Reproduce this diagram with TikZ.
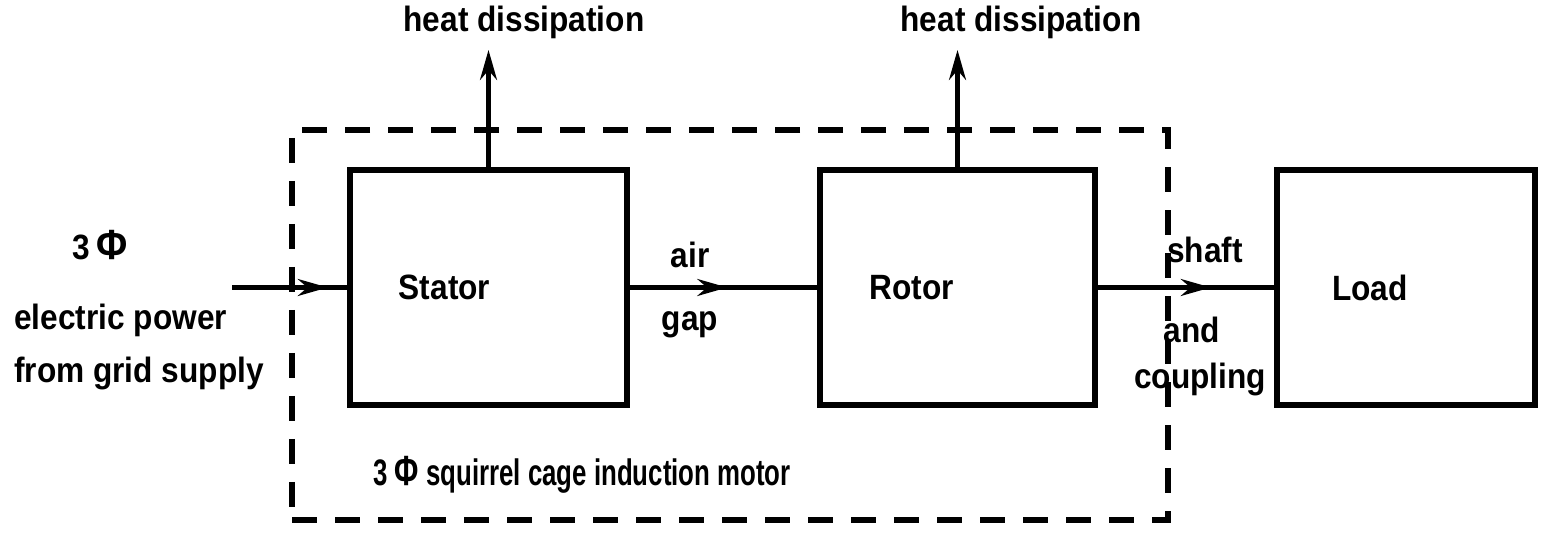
\documentclass[tikz,border=0pt]{standalone}
\usepackage{fontspec}
\setsansfont{Liberation Sans}[FakeStretch=0.9]
\newfontfamily\narrowsans{Liberation Sans}[FakeStretch=0.7]
\usetikzlibrary{arrows.meta,decorations.markings}

\begin{document}
\begin{tikzpicture}[
  font=\sffamily\bfseries\fontsize{10}{15}\selectfont,>={Stealth[length=3mm,width=1.7mm]},
  block/.style={rectangle,draw=black,line width=1.5pt,minimum width=#1,minimum height=2.35cm,inner sep=0pt},
  motorbox/.style={rectangle,draw=black,line width=1.5pt,dash pattern=on 2.5mm off 1.8mm,minimum width=8.76cm,minimum height=3.9cm,inner sep=0pt},
  midarrow/.style={postaction={decorate},decoration={markings,mark=at position #1 with {\arrow{Stealth[length=3mm,width=1.7mm]}}}},
  flow/.style={line width=1.2pt,midarrow=#1},
  heat/.style={->,line width=1.2pt},
  txt/.style={inner sep=1pt}
]
\useasboundingbox (0,0) rectangle (15.48,5.35);
% Motor boundary, stator and rotor inside it, load outside; power flows left to right.
\node[motorbox] (motor) at (7.30,2.10) {};
\node[block=2.77cm,label={[xshift=-4.4mm]center:Stator}] (stator) at (4.885,2.475) {};
\node[block=2.75cm,label={[xshift=-4.6mm]center:Rotor}] (rotor) at (9.575,2.475) {};
\node[block=2.58cm,label={[xshift=-3.6mm]center:Load}] (load) at (14.06,2.475) {};
\coordinate (grid) at (2.32,2.475);
\coordinate (statorout) at (4.885,4.85);
\coordinate (rotorout) at (9.575,4.85);
\draw[flow=0.83] (grid) -- (stator.west);
\draw[flow=0.52] (stator.east) -- (rotor.west);
\draw[flow=0.64] (rotor.east) -- (load.west);
\draw[heat] (stator.north) -- (statorout);
\draw[heat] (rotor.north) -- (rotorout);
\node[txt] (statorheat) at (5.24,5.13) {heat dissipation};
\node[txt] (rotorheat) at (10.21,5.13) {heat dissipation};
\node[txt] (phase) at (1.0,2.90) {3\,{\large Φ}};
\node[txt,align=left,anchor=west] (supply) at (0.10,1.88) {electric power\\from grid supply};
\node[txt] (air) at (6.90,2.80) {air};
\node[txt] (gap) at (6.90,2.10) {gap};
\node[txt] (shaft) at (12.05,2.85) {shaft};
\node[txt] (and) at (11.92,2.05) {and};
\node[txt] (coupling) at (12.00,1.55) {coupling};
\node[txt,font=\narrowsans\bfseries\fontsize{10.5}{15}\selectfont] (motorname) at (5.82,0.60) {3 {\large Φ} squirrel cage induction motor};
\end{tikzpicture}
\end{document}
